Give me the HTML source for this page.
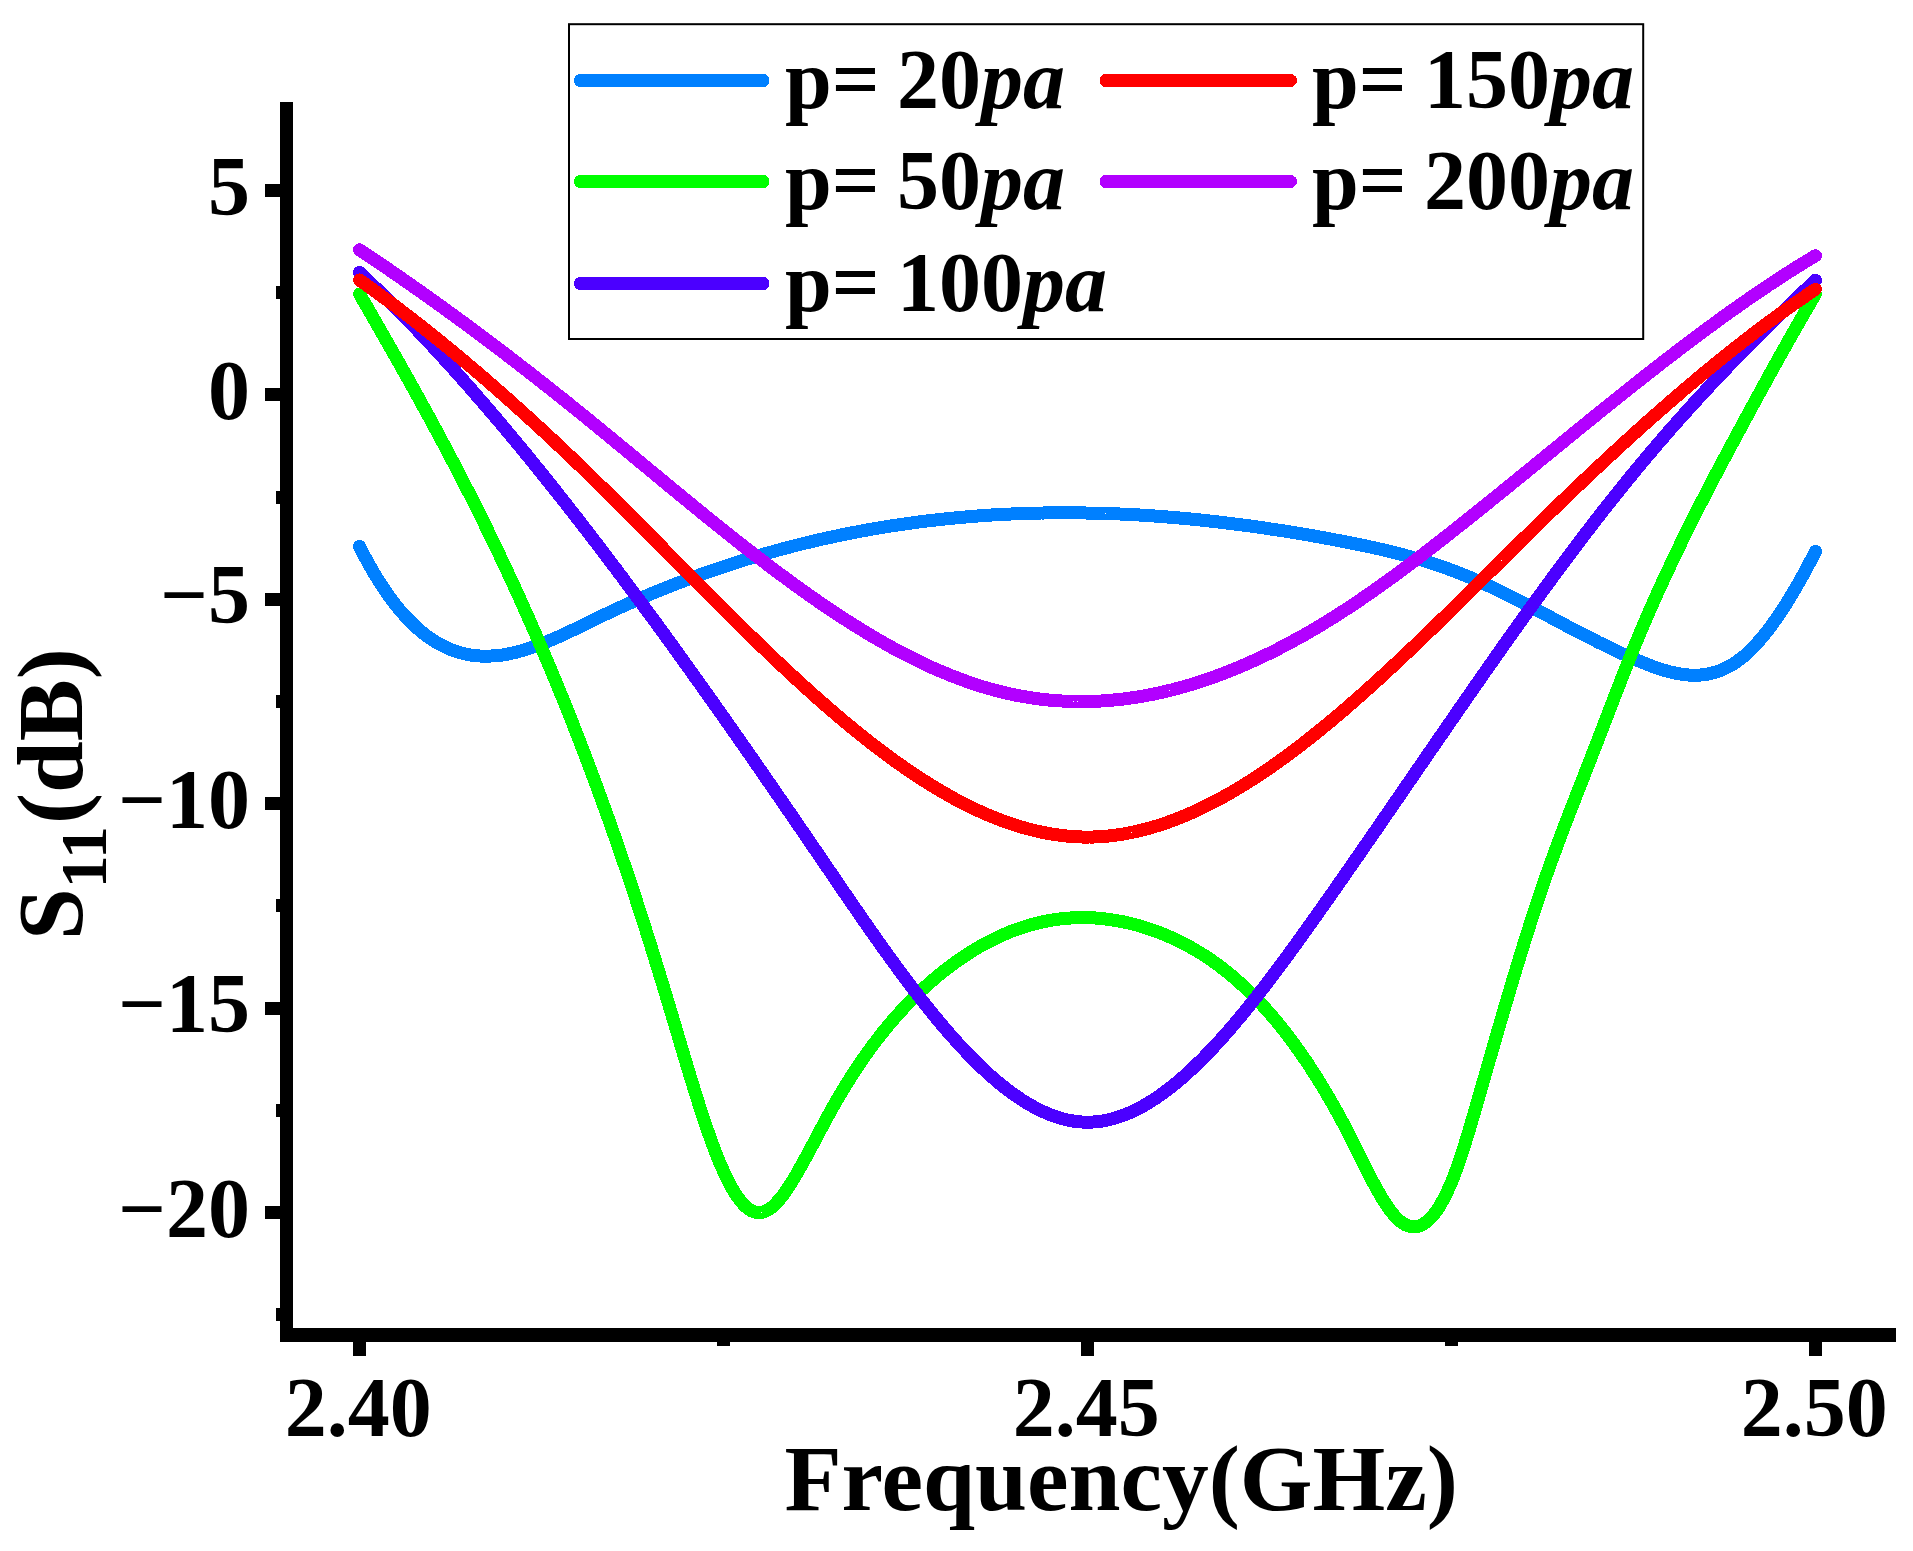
<!DOCTYPE html>
<html><head><meta charset="utf-8"><style>
html,body{margin:0;padding:0;background:#fff;}
svg{display:block;}
text{font-family:"Liberation Serif", serif;font-weight:bold;fill:#000;}
</style></head><body>
<svg width="1913" height="1551" viewBox="0 0 1913 1551">
<rect width="1913" height="1551" fill="#fff"/>
<g fill="none" stroke-width="13" stroke-linecap="round" stroke-linejoin="round" shape-rendering="crispEdges">
<path d="M359.5,546.4 L361.5,550.4 L363.5,554.2 L365.5,558.0 L367.5,561.7 L369.5,565.3 L371.5,568.8 L373.5,572.2 L375.5,575.6 L377.5,578.8 L379.5,582.0 L381.5,585.1 L383.5,588.2 L385.5,591.1 L387.5,594.0 L389.5,596.8 L391.5,599.5 L393.5,602.2 L395.5,604.7 L397.5,607.2 L399.5,609.7 L401.5,612.0 L403.5,614.3 L405.5,616.5 L407.5,618.7 L409.5,620.7 L411.5,622.7 L413.5,624.7 L415.5,626.6 L417.5,628.4 L419.5,630.1 L421.5,631.8 L423.5,633.4 L425.5,635.0 L427.5,636.4 L429.5,637.9 L431.5,639.2 L433.5,640.5 L435.5,641.8 L437.5,643.0 L439.5,644.1 L441.5,645.2 L443.5,646.2 L445.5,647.2 L447.5,648.1 L449.5,649.0 L451.5,649.8 L453.5,650.5 L455.5,651.2 L457.5,651.9 L459.5,652.5 L461.5,653.0 L463.5,653.6 L465.5,654.0 L467.5,654.4 L469.5,654.8 L471.5,655.1 L473.5,655.4 L475.5,655.6 L477.5,655.8 L479.5,656.0 L481.5,656.1 L483.5,656.1 L485.5,656.2 L487.5,656.2 L489.5,656.1 L491.5,656.0 L493.5,655.9 L495.5,655.7 L497.5,655.6 L499.5,655.3 L501.5,655.1 L503.5,654.8 L505.5,654.4 L507.5,654.1 L509.5,653.7 L511.5,653.3 L513.5,652.8 L515.5,652.4 L517.5,651.9 L519.5,651.3 L521.5,650.8 L523.5,650.2 L525.5,649.6 L527.5,649.0 L529.5,648.3 L531.5,647.6 L533.5,646.9 L535.5,646.2 L537.5,645.5 L539.5,644.7 L541.5,644.0 L543.5,643.2 L545.5,642.4 L547.5,641.5 L549.5,640.7 L551.5,639.9 L553.5,639.0 L555.5,638.1 L557.5,637.2 L559.5,636.3 L561.5,635.4 L563.5,634.5 L565.5,633.6 L567.5,632.6 L569.5,631.7 L571.5,630.7 L573.5,629.8 L575.5,628.8 L577.5,627.8 L579.5,626.9 L581.5,625.9 L583.5,624.9 L585.5,623.9 L587.5,623.0 L589.5,622.0 L591.5,621.0 L593.5,620.0 L595.5,619.1 L597.5,618.1 L599.5,617.1 L601.5,616.2 L603.5,615.2 L605.5,614.2 L607.5,613.3 L609.5,612.4 L611.5,611.4 L613.5,610.5 L615.5,609.6 L617.5,608.6 L619.5,607.7 L621.5,606.8 L623.5,605.9 L625.5,605.0 L627.5,604.1 L629.5,603.2 L631.5,602.3 L633.5,601.5 L635.5,600.6 L637.5,599.7 L639.5,598.8 L641.5,598.0 L643.5,597.1 L645.5,596.3 L647.5,595.4 L649.5,594.6 L651.5,593.7 L653.5,592.9 L655.5,592.1 L657.5,591.2 L659.5,590.4 L661.5,589.6 L663.5,588.8 L665.5,588.0 L667.5,587.2 L669.5,586.4 L671.5,585.6 L673.5,584.8 L675.5,584.0 L677.5,583.3 L679.5,582.5 L681.5,581.7 L683.5,581.0 L685.5,580.2 L687.5,579.5 L689.5,578.7 L691.5,578.0 L693.5,577.2 L695.5,576.5 L697.5,575.8 L699.5,575.0 L701.5,574.3 L703.5,573.6 L705.5,572.9 L707.5,572.2 L709.5,571.5 L711.5,570.8 L713.5,570.1 L715.5,569.4 L717.5,568.7 L719.5,568.0 L721.5,567.4 L723.5,566.7 L725.5,566.0 L727.5,565.4 L729.5,564.7 L731.5,564.1 L733.5,563.4 L735.5,562.8 L737.5,562.1 L739.5,561.5 L741.5,560.9 L743.5,560.2 L745.5,559.6 L747.5,559.0 L749.5,558.4 L751.5,557.8 L753.5,557.2 L755.5,556.6 L757.5,556.0 L759.5,555.4 L761.5,554.8 L763.5,554.2 L765.5,553.7 L767.5,553.1 L769.5,552.5 L771.5,552.0 L773.5,551.4 L775.5,550.8 L777.5,550.3 L779.5,549.7 L781.5,549.2 L783.5,548.7 L785.5,548.1 L787.5,547.6 L789.5,547.1 L791.5,546.6 L793.5,546.0 L795.5,545.5 L797.5,545.0 L799.5,544.5 L801.5,544.0 L803.5,543.5 L805.5,543.0 L807.5,542.6 L809.5,542.1 L811.5,541.6 L813.5,541.1 L815.5,540.7 L817.5,540.2 L819.5,539.7 L821.5,539.3 L823.5,538.8 L825.5,538.4 L827.5,537.9 L829.5,537.5 L831.5,537.1 L833.5,536.6 L835.5,536.2 L837.5,535.8 L839.5,535.4 L841.5,534.9 L843.5,534.5 L845.5,534.1 L847.5,533.7 L849.5,533.3 L851.5,532.9 L853.5,532.5 L855.5,532.2 L857.5,531.8 L859.5,531.4 L861.5,531.0 L863.5,530.7 L865.5,530.3 L867.5,529.9 L869.5,529.6 L871.5,529.2 L873.5,528.9 L875.5,528.5 L877.5,528.2 L879.5,527.8 L881.5,527.5 L883.5,527.2 L885.5,526.9 L887.5,526.5 L889.5,526.2 L891.5,525.9 L893.5,525.6 L895.5,525.3 L897.5,525.0 L899.5,524.7 L901.5,524.4 L903.5,524.1 L905.5,523.8 L907.5,523.5 L909.5,523.2 L911.5,523.0 L913.5,522.7 L915.5,522.4 L917.5,522.2 L919.5,521.9 L921.5,521.7 L923.5,521.4 L925.5,521.2 L927.5,520.9 L929.5,520.7 L931.5,520.4 L933.5,520.2 L935.5,520.0 L937.5,519.7 L939.5,519.5 L941.5,519.3 L943.5,519.1 L945.5,518.9 L947.5,518.7 L949.5,518.5 L951.5,518.3 L953.5,518.1 L955.5,517.9 L957.5,517.7 L959.5,517.5 L961.5,517.3 L963.5,517.2 L965.5,517.0 L967.5,516.8 L969.5,516.6 L971.5,516.5 L973.5,516.3 L975.5,516.2 L977.5,516.0 L979.5,515.9 L981.5,515.7 L983.5,515.6 L985.5,515.4 L987.5,515.3 L989.5,515.2 L991.5,515.0 L993.5,514.9 L995.5,514.8 L997.5,514.7 L999.5,514.6 L1001.5,514.5 L1003.5,514.4 L1005.5,514.3 L1007.5,514.2 L1009.5,514.1 L1011.5,514.0 L1013.5,513.9 L1015.5,513.8 L1017.5,513.7 L1019.5,513.6 L1021.5,513.6 L1023.5,513.5 L1025.5,513.4 L1027.5,513.4 L1029.5,513.3 L1031.5,513.3 L1033.5,513.2 L1035.5,513.1 L1037.5,513.1 L1039.5,513.1 L1041.5,513.0 L1043.5,513.0 L1045.5,512.9 L1047.5,512.9 L1049.5,512.9 L1051.5,512.9 L1053.5,512.8 L1055.5,512.8 L1057.5,512.8 L1059.5,512.8 L1061.5,512.8 L1063.5,512.8 L1065.5,512.8 L1067.5,512.8 L1069.5,512.8 L1071.5,512.8 L1073.5,512.8 L1075.5,512.8 L1077.5,512.9 L1079.5,512.9 L1081.5,512.9 L1083.5,512.9 L1085.5,513.0 L1087.5,513.0 L1089.5,513.1 L1091.5,513.1 L1093.5,513.1 L1095.5,513.2 L1097.5,513.2 L1099.5,513.3 L1101.5,513.4 L1103.5,513.4 L1105.5,513.5 L1107.5,513.5 L1109.5,513.6 L1111.5,513.7 L1113.5,513.8 L1115.5,513.8 L1117.5,513.9 L1119.5,514.0 L1121.5,514.1 L1123.5,514.2 L1125.5,514.3 L1127.5,514.4 L1129.5,514.5 L1131.5,514.6 L1133.5,514.7 L1135.5,514.8 L1137.5,514.9 L1139.5,515.0 L1141.5,515.2 L1143.5,515.3 L1145.5,515.4 L1147.5,515.5 L1149.5,515.7 L1151.5,515.8 L1153.5,515.9 L1155.5,516.1 L1157.5,516.2 L1159.5,516.4 L1161.5,516.5 L1163.5,516.7 L1165.5,516.8 L1167.5,517.0 L1169.5,517.2 L1171.5,517.3 L1173.5,517.5 L1175.5,517.7 L1177.5,517.8 L1179.5,518.0 L1181.5,518.2 L1183.5,518.4 L1185.5,518.5 L1187.5,518.7 L1189.5,518.9 L1191.5,519.1 L1193.5,519.3 L1195.5,519.5 L1197.5,519.7 L1199.5,519.9 L1201.5,520.1 L1203.5,520.3 L1205.5,520.5 L1207.5,520.8 L1209.5,521.0 L1211.5,521.2 L1213.5,521.4 L1215.5,521.6 L1217.5,521.9 L1219.5,522.1 L1221.5,522.3 L1223.5,522.6 L1225.5,522.8 L1227.5,523.1 L1229.5,523.3 L1231.5,523.6 L1233.5,523.8 L1235.5,524.1 L1237.5,524.3 L1239.5,524.6 L1241.5,524.8 L1243.5,525.1 L1245.5,525.4 L1247.5,525.6 L1249.5,525.9 L1251.5,526.2 L1253.5,526.5 L1255.5,526.7 L1257.5,527.0 L1259.5,527.3 L1261.5,527.6 L1263.5,527.9 L1265.5,528.2 L1267.5,528.5 L1269.5,528.8 L1271.5,529.1 L1273.5,529.4 L1275.5,529.7 L1277.5,530.0 L1279.5,530.3 L1281.5,530.6 L1283.5,530.9 L1285.5,531.2 L1287.5,531.6 L1289.5,531.9 L1291.5,532.2 L1293.5,532.5 L1295.5,532.9 L1297.5,533.2 L1299.5,533.5 L1301.5,533.9 L1303.5,534.2 L1305.5,534.5 L1307.5,534.9 L1309.5,535.2 L1311.5,535.6 L1313.5,535.9 L1315.5,536.3 L1317.5,536.6 L1319.5,537.0 L1321.5,537.4 L1323.5,537.7 L1325.5,538.1 L1327.5,538.5 L1329.5,538.8 L1331.5,539.2 L1333.5,539.6 L1335.5,540.0 L1337.5,540.3 L1339.5,540.7 L1341.5,541.1 L1343.5,541.5 L1345.5,541.9 L1347.5,542.3 L1349.5,542.7 L1351.5,543.1 L1353.5,543.5 L1355.5,543.9 L1357.5,544.3 L1359.5,544.7 L1361.5,545.1 L1363.5,545.5 L1365.5,545.9 L1367.5,546.4 L1369.5,546.8 L1371.5,547.2 L1373.5,547.7 L1375.5,548.1 L1377.5,548.6 L1379.5,549.0 L1381.5,549.5 L1383.5,549.9 L1385.5,550.4 L1387.5,550.9 L1389.5,551.4 L1391.5,551.9 L1393.5,552.4 L1395.5,552.9 L1397.5,553.4 L1399.5,553.9 L1401.5,554.4 L1403.5,554.9 L1405.5,555.5 L1407.5,556.0 L1409.5,556.6 L1411.5,557.1 L1413.5,557.7 L1415.5,558.3 L1417.5,558.8 L1419.5,559.4 L1421.5,560.0 L1423.5,560.6 L1425.5,561.3 L1427.5,561.9 L1429.5,562.5 L1431.5,563.2 L1433.5,563.8 L1435.5,564.5 L1437.5,565.1 L1439.5,565.8 L1441.5,566.5 L1443.5,567.2 L1445.5,567.9 L1447.5,568.6 L1449.5,569.4 L1451.5,570.1 L1453.5,570.9 L1455.5,571.6 L1457.5,572.4 L1459.5,573.2 L1461.5,574.0 L1463.5,574.8 L1465.5,575.6 L1467.5,576.4 L1469.5,577.3 L1471.5,578.1 L1473.5,579.0 L1475.5,579.9 L1477.5,580.8 L1479.5,581.6 L1481.5,582.5 L1483.5,583.4 L1485.5,584.4 L1487.5,585.3 L1489.5,586.2 L1491.5,587.2 L1493.5,588.1 L1495.5,589.1 L1497.5,590.0 L1499.5,591.0 L1501.5,592.0 L1503.5,593.0 L1505.5,593.9 L1507.5,594.9 L1509.5,595.9 L1511.5,596.9 L1513.5,597.9 L1515.5,599.0 L1517.5,600.0 L1519.5,601.0 L1521.5,602.0 L1523.5,603.1 L1525.5,604.1 L1527.5,605.1 L1529.5,606.2 L1531.5,607.2 L1533.5,608.3 L1535.5,609.3 L1537.5,610.4 L1539.5,611.4 L1541.5,612.5 L1543.5,613.5 L1545.5,614.6 L1547.5,615.7 L1549.5,616.7 L1551.5,617.8 L1553.5,618.8 L1555.5,619.9 L1557.5,621.0 L1559.5,622.0 L1561.5,623.1 L1563.5,624.1 L1565.5,625.2 L1567.5,626.3 L1569.5,627.3 L1571.5,628.4 L1573.5,629.4 L1575.5,630.5 L1577.5,631.5 L1579.5,632.5 L1581.5,633.6 L1583.5,634.6 L1585.5,635.7 L1587.5,636.7 L1589.5,637.7 L1591.5,638.7 L1593.5,639.7 L1595.5,640.7 L1597.5,641.8 L1599.5,642.8 L1601.5,643.7 L1603.5,644.7 L1605.5,645.7 L1607.5,646.7 L1609.5,647.7 L1611.5,648.6 L1613.5,649.6 L1615.5,650.5 L1617.5,651.5 L1619.5,652.4 L1621.5,653.3 L1623.5,654.2 L1625.5,655.1 L1627.5,656.0 L1629.5,656.9 L1631.5,657.8 L1633.5,658.7 L1635.5,659.5 L1637.5,660.4 L1639.5,661.2 L1641.5,662.0 L1643.5,662.9 L1645.5,663.7 L1647.5,664.5 L1649.5,665.2 L1651.5,666.0 L1653.5,666.7 L1655.5,667.4 L1657.5,668.1 L1659.5,668.8 L1661.5,669.5 L1663.5,670.1 L1665.5,670.7 L1667.5,671.2 L1669.5,671.8 L1671.5,672.3 L1673.5,672.7 L1675.5,673.2 L1677.5,673.6 L1679.5,673.9 L1681.5,674.2 L1683.5,674.5 L1685.5,674.7 L1687.5,674.9 L1689.5,675.1 L1691.5,675.2 L1693.5,675.2 L1695.5,675.2 L1697.5,675.2 L1699.5,675.1 L1701.5,674.9 L1703.5,674.7 L1705.5,674.4 L1707.5,674.1 L1709.5,673.7 L1711.5,673.2 L1713.5,672.7 L1715.5,672.2 L1717.5,671.5 L1719.5,670.8 L1721.5,670.0 L1723.5,669.2 L1725.5,668.2 L1727.5,667.2 L1729.5,666.2 L1731.5,665.0 L1733.5,663.8 L1735.5,662.5 L1737.5,661.1 L1739.5,659.6 L1741.5,658.1 L1743.5,656.5 L1745.5,654.8 L1747.5,653.0 L1749.5,651.1 L1751.5,649.1 L1753.5,647.1 L1755.5,645.0 L1757.5,642.8 L1759.5,640.5 L1761.5,638.2 L1763.5,635.8 L1765.5,633.3 L1767.5,630.8 L1769.5,628.2 L1771.5,625.5 L1773.5,622.7 L1775.5,619.9 L1777.5,617.0 L1779.5,614.1 L1781.5,611.1 L1783.5,608.0 L1785.5,604.9 L1787.5,601.7 L1789.5,598.4 L1791.5,595.1 L1793.5,591.8 L1795.5,588.4 L1797.5,584.9 L1799.5,581.4 L1801.5,577.8 L1803.5,574.2 L1805.5,570.5 L1807.5,566.8 L1809.5,563.0 L1811.5,559.2 L1813.5,555.3 L1815.5,551.4" stroke="#0080FF"/>
<path d="M359.5,294.0 L361.5,297.4 L363.5,300.9 L365.5,304.4 L367.5,307.8 L369.5,311.3 L371.5,314.8 L373.5,318.2 L375.5,321.7 L377.5,325.2 L379.5,328.7 L381.5,332.2 L383.5,335.7 L385.5,339.2 L387.5,342.7 L389.5,346.2 L391.5,349.7 L393.5,353.2 L395.5,356.7 L397.5,360.3 L399.5,363.8 L401.5,367.4 L403.5,370.9 L405.5,374.5 L407.5,378.0 L409.5,381.6 L411.5,385.2 L413.5,388.8 L415.5,392.4 L417.5,396.0 L419.5,399.6 L421.5,403.3 L423.5,406.9 L425.5,410.6 L427.5,414.2 L429.5,417.9 L431.5,421.6 L433.5,425.3 L435.5,429.0 L437.5,432.7 L439.5,436.4 L441.5,440.2 L443.5,443.9 L445.5,447.7 L447.5,451.5 L449.5,455.3 L451.5,459.1 L453.5,462.9 L455.5,466.7 L457.5,470.6 L459.5,474.4 L461.5,478.3 L463.5,482.2 L465.5,486.1 L467.5,490.0 L469.5,493.9 L471.5,497.9 L473.5,501.8 L475.5,505.8 L477.5,509.8 L479.5,513.8 L481.5,517.9 L483.5,521.9 L485.5,526.0 L487.5,530.0 L489.5,534.1 L491.5,538.3 L493.5,542.4 L495.5,546.5 L497.5,550.7 L499.5,554.9 L501.5,559.1 L503.5,563.3 L505.5,567.6 L507.5,571.9 L509.5,576.2 L511.5,580.5 L513.5,584.8 L515.5,589.1 L517.5,593.5 L519.5,597.9 L521.5,602.3 L523.5,606.8 L525.5,611.2 L527.5,615.7 L529.5,620.2 L531.5,624.7 L533.5,629.3 L535.5,633.8 L537.5,638.4 L539.5,643.1 L541.5,647.7 L543.5,652.4 L545.5,657.1 L547.5,661.8 L549.5,666.5 L551.5,671.3 L553.5,676.1 L555.5,680.9 L557.5,685.8 L559.5,690.6 L561.5,695.5 L563.5,700.4 L565.5,705.4 L567.5,710.4 L569.5,715.4 L571.5,720.4 L573.5,725.5 L575.5,730.6 L577.5,735.7 L579.5,740.8 L581.5,746.0 L583.5,751.2 L585.5,756.4 L587.5,761.7 L589.5,767.0 L591.5,772.3 L593.5,777.7 L595.5,783.1 L597.5,788.5 L599.5,794.0 L601.5,799.4 L603.5,805.0 L605.5,810.5 L607.5,816.1 L609.5,821.7 L611.5,827.4 L613.5,833.0 L615.5,838.8 L617.5,844.5 L619.5,850.3 L621.5,856.1 L623.5,862.0 L625.5,867.9 L627.5,873.8 L629.5,879.8 L631.5,885.8 L633.5,891.9 L635.5,897.9 L637.5,904.1 L639.5,910.2 L641.5,916.4 L643.5,922.7 L645.5,928.9 L647.5,935.3 L649.5,941.6 L651.5,948.0 L653.5,954.4 L655.5,960.9 L657.5,967.4 L659.5,973.9 L661.5,980.4 L663.5,987.0 L665.5,993.6 L667.5,1000.2 L669.5,1006.9 L671.5,1013.6 L673.5,1020.3 L675.5,1027.0 L677.5,1033.7 L679.5,1040.5 L681.5,1047.2 L683.5,1053.9 L685.5,1060.6 L687.5,1067.3 L689.5,1073.9 L691.5,1080.5 L693.5,1087.0 L695.5,1093.5 L697.5,1099.8 L699.5,1106.1 L701.5,1112.3 L703.5,1118.3 L705.5,1124.3 L707.5,1130.1 L709.5,1135.8 L711.5,1141.4 L713.5,1146.8 L715.5,1152.0 L717.5,1157.1 L719.5,1162.0 L721.5,1166.7 L723.5,1171.2 L725.5,1175.5 L727.5,1179.6 L729.5,1183.5 L731.5,1187.2 L733.5,1190.7 L735.5,1193.9 L737.5,1196.9 L739.5,1199.6 L741.5,1202.1 L743.5,1204.4 L745.5,1206.4 L747.5,1208.1 L749.5,1209.6 L751.5,1210.8 L753.5,1211.7 L755.5,1212.3 L757.5,1212.7 L759.5,1212.7 L761.5,1212.5 L763.5,1212.0 L765.5,1211.2 L767.5,1210.2 L769.5,1208.9 L771.5,1207.5 L773.5,1205.8 L775.5,1203.8 L777.5,1201.7 L779.5,1199.4 L781.5,1197.0 L783.5,1194.4 L785.5,1191.6 L787.5,1188.7 L789.5,1185.6 L791.5,1182.5 L793.5,1179.2 L795.5,1175.9 L797.5,1172.4 L799.5,1168.9 L801.5,1165.3 L803.5,1161.7 L805.5,1158.0 L807.5,1154.3 L809.5,1150.6 L811.5,1146.9 L813.5,1143.1 L815.5,1139.3 L817.5,1135.5 L819.5,1131.8 L821.5,1128.0 L823.5,1124.3 L825.5,1120.5 L827.5,1116.9 L829.5,1113.2 L831.5,1109.6 L833.5,1106.1 L835.5,1102.6 L837.5,1099.1 L839.5,1095.7 L841.5,1092.3 L843.5,1089.0 L845.5,1085.7 L847.5,1082.5 L849.5,1079.3 L851.5,1076.2 L853.5,1073.1 L855.5,1070.0 L857.5,1067.0 L859.5,1064.0 L861.5,1061.1 L863.5,1058.2 L865.5,1055.3 L867.5,1052.5 L869.5,1049.7 L871.5,1047.0 L873.5,1044.3 L875.5,1041.7 L877.5,1039.0 L879.5,1036.5 L881.5,1033.9 L883.5,1031.4 L885.5,1029.0 L887.5,1026.5 L889.5,1024.1 L891.5,1021.8 L893.5,1019.4 L895.5,1017.1 L897.5,1014.9 L899.5,1012.7 L901.5,1010.5 L903.5,1008.3 L905.5,1006.2 L907.5,1004.1 L909.5,1002.0 L911.5,1000.0 L913.5,998.0 L915.5,996.0 L917.5,994.1 L919.5,992.2 L921.5,990.3 L923.5,988.4 L925.5,986.6 L927.5,984.8 L929.5,983.0 L931.5,981.3 L933.5,979.5 L935.5,977.8 L937.5,976.2 L939.5,974.5 L941.5,972.9 L943.5,971.3 L945.5,969.7 L947.5,968.2 L949.5,966.7 L951.5,965.2 L953.5,963.7 L955.5,962.3 L957.5,960.8 L959.5,959.4 L961.5,958.1 L963.5,956.7 L965.5,955.4 L967.5,954.1 L969.5,952.8 L971.5,951.5 L973.5,950.3 L975.5,949.1 L977.5,947.9 L979.5,946.7 L981.5,945.6 L983.5,944.5 L985.5,943.4 L987.5,942.3 L989.5,941.3 L991.5,940.3 L993.5,939.3 L995.5,938.3 L997.5,937.3 L999.5,936.4 L1001.5,935.5 L1003.5,934.6 L1005.5,933.8 L1007.5,932.9 L1009.5,932.1 L1011.5,931.3 L1013.5,930.5 L1015.5,929.8 L1017.5,929.1 L1019.5,928.4 L1021.5,927.7 L1023.5,927.0 L1025.5,926.4 L1027.5,925.8 L1029.5,925.2 L1031.5,924.6 L1033.5,924.1 L1035.5,923.6 L1037.5,923.1 L1039.5,922.6 L1041.5,922.2 L1043.5,921.7 L1045.5,921.3 L1047.5,920.9 L1049.5,920.6 L1051.5,920.2 L1053.5,919.9 L1055.5,919.6 L1057.5,919.3 L1059.5,919.0 L1061.5,918.8 L1063.5,918.6 L1065.5,918.4 L1067.5,918.2 L1069.5,918.1 L1071.5,917.9 L1073.5,917.8 L1075.5,917.8 L1077.5,917.7 L1079.5,917.6 L1081.5,917.6 L1083.5,917.6 L1085.5,917.6 L1087.5,917.7 L1089.5,917.7 L1091.5,917.8 L1093.5,917.9 L1095.5,918.0 L1097.5,918.2 L1099.5,918.4 L1101.5,918.5 L1103.5,918.7 L1105.5,919.0 L1107.5,919.2 L1109.5,919.5 L1111.5,919.8 L1113.5,920.1 L1115.5,920.4 L1117.5,920.8 L1119.5,921.1 L1121.5,921.5 L1123.5,921.9 L1125.5,922.3 L1127.5,922.8 L1129.5,923.3 L1131.5,923.7 L1133.5,924.3 L1135.5,924.8 L1137.5,925.3 L1139.5,925.9 L1141.5,926.5 L1143.5,927.1 L1145.5,927.7 L1147.5,928.4 L1149.5,929.0 L1151.5,929.7 L1153.5,930.4 L1155.5,931.1 L1157.5,931.9 L1159.5,932.6 L1161.5,933.4 L1163.5,934.2 L1165.5,935.0 L1167.5,935.9 L1169.5,936.8 L1171.5,937.6 L1173.5,938.6 L1175.5,939.5 L1177.5,940.4 L1179.5,941.4 L1181.5,942.4 L1183.5,943.4 L1185.5,944.5 L1187.5,945.6 L1189.5,946.7 L1191.5,947.8 L1193.5,948.9 L1195.5,950.1 L1197.5,951.3 L1199.5,952.5 L1201.5,953.7 L1203.5,955.0 L1205.5,956.3 L1207.5,957.6 L1209.5,959.0 L1211.5,960.3 L1213.5,961.7 L1215.5,963.2 L1217.5,964.6 L1219.5,966.1 L1221.5,967.6 L1223.5,969.2 L1225.5,970.7 L1227.5,972.3 L1229.5,974.0 L1231.5,975.6 L1233.5,977.3 L1235.5,979.0 L1237.5,980.8 L1239.5,982.6 L1241.5,984.4 L1243.5,986.2 L1245.5,988.1 L1247.5,990.0 L1249.5,991.9 L1251.5,993.9 L1253.5,995.9 L1255.5,997.9 L1257.5,1000.0 L1259.5,1002.1 L1261.5,1004.2 L1263.5,1006.4 L1265.5,1008.6 L1267.5,1010.8 L1269.5,1013.1 L1271.5,1015.4 L1273.5,1017.8 L1275.5,1020.1 L1277.5,1022.5 L1279.5,1025.0 L1281.5,1027.5 L1283.5,1030.0 L1285.5,1032.6 L1287.5,1035.1 L1289.5,1037.8 L1291.5,1040.4 L1293.5,1043.2 L1295.5,1045.9 L1297.5,1048.7 L1299.5,1051.5 L1301.5,1054.4 L1303.5,1057.3 L1305.5,1060.2 L1307.5,1063.2 L1309.5,1066.2 L1311.5,1069.3 L1313.5,1072.4 L1315.5,1075.5 L1317.5,1078.7 L1319.5,1081.9 L1321.5,1085.2 L1323.5,1088.5 L1325.5,1091.8 L1327.5,1095.2 L1329.5,1098.7 L1331.5,1102.1 L1333.5,1105.6 L1335.5,1109.2 L1337.5,1112.8 L1339.5,1116.5 L1341.5,1120.2 L1343.5,1123.9 L1345.5,1127.7 L1347.5,1131.5 L1349.5,1135.4 L1351.5,1139.3 L1353.5,1143.3 L1355.5,1147.3 L1357.5,1151.3 L1359.5,1155.3 L1361.5,1159.4 L1363.5,1163.4 L1365.5,1167.4 L1367.5,1171.4 L1369.5,1175.3 L1371.5,1179.2 L1373.5,1183.0 L1375.5,1186.7 L1377.5,1190.3 L1379.5,1193.8 L1381.5,1197.2 L1383.5,1200.5 L1385.5,1203.6 L1387.5,1206.6 L1389.5,1209.4 L1391.5,1212.1 L1393.5,1214.5 L1395.5,1216.8 L1397.5,1218.9 L1399.5,1220.7 L1401.5,1222.3 L1403.5,1223.6 L1405.5,1224.8 L1407.5,1225.6 L1409.5,1226.3 L1411.5,1226.7 L1413.5,1226.9 L1415.5,1226.8 L1417.5,1226.4 L1419.5,1225.9 L1421.5,1225.0 L1423.5,1224.0 L1425.5,1222.6 L1427.5,1221.1 L1429.5,1219.2 L1431.5,1217.1 L1433.5,1214.8 L1435.5,1212.2 L1437.5,1209.4 L1439.5,1206.3 L1441.5,1202.9 L1443.5,1199.2 L1445.5,1195.4 L1447.5,1191.2 L1449.5,1186.8 L1451.5,1182.1 L1453.5,1177.1 L1455.5,1171.9 L1457.5,1166.4 L1459.5,1160.7 L1461.5,1154.7 L1463.5,1148.5 L1465.5,1142.1 L1467.5,1135.6 L1469.5,1129.0 L1471.5,1122.2 L1473.5,1115.4 L1475.5,1108.5 L1477.5,1101.5 L1479.5,1094.6 L1481.5,1087.6 L1483.5,1080.7 L1485.5,1073.7 L1487.5,1066.8 L1489.5,1059.8 L1491.5,1052.9 L1493.5,1046.0 L1495.5,1039.1 L1497.5,1032.2 L1499.5,1025.3 L1501.5,1018.4 L1503.5,1011.6 L1505.5,1004.8 L1507.5,998.0 L1509.5,991.3 L1511.5,984.5 L1513.5,977.8 L1515.5,971.2 L1517.5,964.6 L1519.5,958.0 L1521.5,951.5 L1523.5,945.1 L1525.5,938.6 L1527.5,932.3 L1529.5,926.0 L1531.5,919.7 L1533.5,913.5 L1535.5,907.4 L1537.5,901.4 L1539.5,895.4 L1541.5,889.5 L1543.5,883.6 L1545.5,877.8 L1547.5,872.1 L1549.5,866.5 L1551.5,860.9 L1553.5,855.4 L1555.5,850.0 L1557.5,844.6 L1559.5,839.2 L1561.5,833.9 L1563.5,828.6 L1565.5,823.4 L1567.5,818.1 L1569.5,813.0 L1571.5,807.8 L1573.5,802.7 L1575.5,797.5 L1577.5,792.4 L1579.5,787.3 L1581.5,782.2 L1583.5,777.1 L1585.5,772.0 L1587.5,766.9 L1589.5,761.7 L1591.5,756.6 L1593.5,751.4 L1595.5,746.3 L1597.5,741.1 L1599.5,735.9 L1601.5,730.7 L1603.5,725.5 L1605.5,720.3 L1607.5,715.1 L1609.5,709.9 L1611.5,704.7 L1613.5,699.5 L1615.5,694.4 L1617.5,689.2 L1619.5,684.1 L1621.5,679.0 L1623.5,673.9 L1625.5,668.8 L1627.5,663.8 L1629.5,658.8 L1631.5,653.8 L1633.5,648.9 L1635.5,644.0 L1637.5,639.1 L1639.5,634.3 L1641.5,629.6 L1643.5,624.8 L1645.5,620.2 L1647.5,615.6 L1649.5,611.0 L1651.5,606.4 L1653.5,601.9 L1655.5,597.4 L1657.5,593.0 L1659.5,588.6 L1661.5,584.2 L1663.5,579.9 L1665.5,575.6 L1667.5,571.3 L1669.5,567.1 L1671.5,562.8 L1673.5,558.6 L1675.5,554.4 L1677.5,550.3 L1679.5,546.1 L1681.5,542.0 L1683.5,537.9 L1685.5,533.9 L1687.5,529.8 L1689.5,525.8 L1691.5,521.8 L1693.5,517.8 L1695.5,513.8 L1697.5,509.9 L1699.5,506.0 L1701.5,502.0 L1703.5,498.1 L1705.5,494.2 L1707.5,490.4 L1709.5,486.5 L1711.5,482.7 L1713.5,478.8 L1715.5,475.0 L1717.5,471.2 L1719.5,467.4 L1721.5,463.7 L1723.5,459.9 L1725.5,456.1 L1727.5,452.4 L1729.5,448.6 L1731.5,444.9 L1733.5,441.1 L1735.5,437.4 L1737.5,433.7 L1739.5,430.0 L1741.5,426.3 L1743.5,422.6 L1745.5,418.9 L1747.5,415.2 L1749.5,411.5 L1751.5,407.8 L1753.5,404.1 L1755.5,400.5 L1757.5,396.8 L1759.5,393.1 L1761.5,389.5 L1763.5,385.8 L1765.5,382.2 L1767.5,378.6 L1769.5,374.9 L1771.5,371.3 L1773.5,367.7 L1775.5,364.1 L1777.5,360.5 L1779.5,356.9 L1781.5,353.3 L1783.5,349.8 L1785.5,346.2 L1787.5,342.6 L1789.5,339.1 L1791.5,335.6 L1793.5,332.0 L1795.5,328.5 L1797.5,325.0 L1799.5,321.5 L1801.5,318.1 L1803.5,314.6 L1805.5,311.1 L1807.5,307.7 L1809.5,304.3 L1811.5,300.9 L1813.5,297.5 L1815.5,294.1" stroke="#00FF00"/>
<path d="M359.5,272.4 L361.5,274.3 L363.5,276.2 L365.5,278.1 L367.5,280.0 L369.5,281.9 L371.5,283.9 L373.5,285.8 L375.5,287.7 L377.5,289.7 L379.5,291.7 L381.5,293.6 L383.5,295.6 L385.5,297.6 L387.5,299.6 L389.5,301.6 L391.5,303.6 L393.5,305.6 L395.5,307.6 L397.5,309.7 L399.5,311.7 L401.5,313.7 L403.5,315.8 L405.5,317.8 L407.5,319.9 L409.5,322.0 L411.5,324.1 L413.5,326.1 L415.5,328.2 L417.5,330.3 L419.5,332.4 L421.5,334.6 L423.5,336.7 L425.5,338.8 L427.5,340.9 L429.5,343.1 L431.5,345.2 L433.5,347.4 L435.5,349.5 L437.5,351.7 L439.5,353.9 L441.5,356.1 L443.5,358.3 L445.5,360.5 L447.5,362.7 L449.5,364.9 L451.5,367.1 L453.5,369.3 L455.5,371.5 L457.5,373.8 L459.5,376.0 L461.5,378.3 L463.5,380.5 L465.5,382.8 L467.5,385.0 L469.5,387.3 L471.5,389.6 L473.5,391.9 L475.5,394.2 L477.5,396.5 L479.5,398.8 L481.5,401.1 L483.5,403.4 L485.5,405.7 L487.5,408.0 L489.5,410.4 L491.5,412.7 L493.5,415.1 L495.5,417.4 L497.5,419.8 L499.5,422.1 L501.5,424.5 L503.5,426.9 L505.5,429.3 L507.5,431.7 L509.5,434.1 L511.5,436.5 L513.5,438.9 L515.5,441.3 L517.5,443.7 L519.5,446.1 L521.5,448.5 L523.5,451.0 L525.5,453.4 L527.5,455.8 L529.5,458.3 L531.5,460.7 L533.5,463.2 L535.5,465.7 L537.5,468.1 L539.5,470.6 L541.5,473.1 L543.5,475.6 L545.5,478.1 L547.5,480.6 L549.5,483.1 L551.5,485.6 L553.5,488.1 L555.5,490.6 L557.5,493.1 L559.5,495.7 L561.5,498.2 L563.5,500.7 L565.5,503.3 L567.5,505.8 L569.5,508.4 L571.5,510.9 L573.5,513.5 L575.5,516.1 L577.5,518.6 L579.5,521.2 L581.5,523.8 L583.5,526.4 L585.5,529.0 L587.5,531.5 L589.5,534.1 L591.5,536.8 L593.5,539.4 L595.5,542.0 L597.5,544.6 L599.5,547.2 L601.5,549.8 L603.5,552.5 L605.5,555.1 L607.5,557.7 L609.5,560.4 L611.5,563.0 L613.5,565.7 L615.5,568.3 L617.5,571.0 L619.5,573.7 L621.5,576.3 L623.5,579.0 L625.5,581.7 L627.5,584.4 L629.5,587.0 L631.5,589.7 L633.5,592.4 L635.5,595.1 L637.5,597.8 L639.5,600.5 L641.5,603.2 L643.5,605.9 L645.5,608.7 L647.5,611.4 L649.5,614.1 L651.5,616.8 L653.5,619.5 L655.5,622.3 L657.5,625.0 L659.5,627.8 L661.5,630.5 L663.5,633.3 L665.5,636.0 L667.5,638.8 L669.5,641.5 L671.5,644.3 L673.5,647.0 L675.5,649.8 L677.5,652.6 L679.5,655.4 L681.5,658.1 L683.5,660.9 L685.5,663.7 L687.5,666.5 L689.5,669.3 L691.5,672.1 L693.5,674.9 L695.5,677.7 L697.5,680.5 L699.5,683.3 L701.5,686.1 L703.5,688.9 L705.5,691.7 L707.5,694.5 L709.5,697.4 L711.5,700.2 L713.5,703.0 L715.5,705.8 L717.5,708.7 L719.5,711.5 L721.5,714.3 L723.5,717.2 L725.5,720.0 L727.5,722.9 L729.5,725.7 L731.5,728.6 L733.5,731.4 L735.5,734.3 L737.5,737.1 L739.5,740.0 L741.5,742.9 L743.5,745.7 L745.5,748.6 L747.5,751.5 L749.5,754.3 L751.5,757.2 L753.5,760.1 L755.5,763.0 L757.5,765.8 L759.5,768.7 L761.5,771.6 L763.5,774.5 L765.5,777.4 L767.5,780.3 L769.5,783.2 L771.5,786.1 L773.5,789.0 L775.5,791.9 L777.5,794.8 L779.5,797.7 L781.5,800.6 L783.5,803.5 L785.5,806.4 L787.5,809.3 L789.5,812.2 L791.5,815.1 L793.5,818.0 L795.5,820.9 L797.5,823.9 L799.5,826.8 L801.5,829.7 L803.5,832.6 L805.5,835.5 L807.5,838.5 L809.5,841.4 L811.5,844.3 L813.5,847.3 L815.5,850.2 L817.5,853.1 L819.5,856.1 L821.5,859.0 L823.5,861.9 L825.5,864.9 L827.5,867.8 L829.5,870.7 L831.5,873.7 L833.5,876.6 L835.5,879.5 L837.5,882.5 L839.5,885.4 L841.5,888.3 L843.5,891.3 L845.5,894.2 L847.5,897.1 L849.5,900.0 L851.5,902.9 L853.5,905.8 L855.5,908.7 L857.5,911.6 L859.5,914.5 L861.5,917.4 L863.5,920.3 L865.5,923.2 L867.5,926.1 L869.5,928.9 L871.5,931.8 L873.5,934.6 L875.5,937.5 L877.5,940.3 L879.5,943.1 L881.5,945.9 L883.5,948.7 L885.5,951.5 L887.5,954.3 L889.5,957.1 L891.5,959.8 L893.5,962.6 L895.5,965.3 L897.5,968.1 L899.5,970.8 L901.5,973.5 L903.5,976.2 L905.5,978.9 L907.5,981.5 L909.5,984.2 L911.5,986.8 L913.5,989.4 L915.5,992.0 L917.5,994.6 L919.5,997.2 L921.5,999.8 L923.5,1002.3 L925.5,1004.8 L927.5,1007.3 L929.5,1009.8 L931.5,1012.3 L933.5,1014.8 L935.5,1017.2 L937.5,1019.6 L939.5,1022.0 L941.5,1024.4 L943.5,1026.8 L945.5,1029.1 L947.5,1031.4 L949.5,1033.7 L951.5,1036.0 L953.5,1038.2 L955.5,1040.5 L957.5,1042.7 L959.5,1044.9 L961.5,1047.0 L963.5,1049.2 L965.5,1051.3 L967.5,1053.4 L969.5,1055.5 L971.5,1057.5 L973.5,1059.5 L975.5,1061.5 L977.5,1063.5 L979.5,1065.5 L981.5,1067.4 L983.5,1069.3 L985.5,1071.1 L987.5,1073.0 L989.5,1074.8 L991.5,1076.6 L993.5,1078.3 L995.5,1080.0 L997.5,1081.7 L999.5,1083.4 L1001.5,1085.0 L1003.5,1086.6 L1005.5,1088.2 L1007.5,1089.7 L1009.5,1091.3 L1011.5,1092.7 L1013.5,1094.2 L1015.5,1095.6 L1017.5,1097.0 L1019.5,1098.3 L1021.5,1099.7 L1023.5,1100.9 L1025.5,1102.2 L1027.5,1103.4 L1029.5,1104.6 L1031.5,1105.7 L1033.5,1106.8 L1035.5,1107.9 L1037.5,1109.0 L1039.5,1110.0 L1041.5,1110.9 L1043.5,1111.9 L1045.5,1112.7 L1047.5,1113.6 L1049.5,1114.4 L1051.5,1115.2 L1053.5,1115.9 L1055.5,1116.6 L1057.5,1117.3 L1059.5,1117.9 L1061.5,1118.5 L1063.5,1119.0 L1065.5,1119.5 L1067.5,1120.0 L1069.5,1120.4 L1071.5,1120.7 L1073.5,1121.1 L1075.5,1121.4 L1077.5,1121.6 L1079.5,1121.8 L1081.5,1122.0 L1083.5,1122.1 L1085.5,1122.1 L1087.5,1122.2 L1089.5,1122.1 L1091.5,1122.1 L1093.5,1122.0 L1095.5,1121.8 L1097.5,1121.6 L1099.5,1121.4 L1101.5,1121.1 L1103.5,1120.8 L1105.5,1120.4 L1107.5,1120.0 L1109.5,1119.5 L1111.5,1119.0 L1113.5,1118.5 L1115.5,1117.9 L1117.5,1117.3 L1119.5,1116.6 L1121.5,1115.9 L1123.5,1115.2 L1125.5,1114.4 L1127.5,1113.6 L1129.5,1112.8 L1131.5,1111.9 L1133.5,1110.9 L1135.5,1110.0 L1137.5,1109.0 L1139.5,1107.9 L1141.5,1106.9 L1143.5,1105.8 L1145.5,1104.6 L1147.5,1103.4 L1149.5,1102.2 L1151.5,1101.0 L1153.5,1099.7 L1155.5,1098.4 L1157.5,1097.0 L1159.5,1095.7 L1161.5,1094.2 L1163.5,1092.8 L1165.5,1091.3 L1167.5,1089.8 L1169.5,1088.3 L1171.5,1086.7 L1173.5,1085.1 L1175.5,1083.5 L1177.5,1081.8 L1179.5,1080.1 L1181.5,1078.4 L1183.5,1076.7 L1185.5,1074.9 L1187.5,1073.1 L1189.5,1071.3 L1191.5,1069.4 L1193.5,1067.5 L1195.5,1065.6 L1197.5,1063.7 L1199.5,1061.7 L1201.5,1059.8 L1203.5,1057.8 L1205.5,1055.7 L1207.5,1053.7 L1209.5,1051.6 L1211.5,1049.5 L1213.5,1047.4 L1215.5,1045.2 L1217.5,1043.0 L1219.5,1040.8 L1221.5,1038.6 L1223.5,1036.4 L1225.5,1034.1 L1227.5,1031.9 L1229.5,1029.6 L1231.5,1027.2 L1233.5,1024.9 L1235.5,1022.5 L1237.5,1020.2 L1239.5,1017.8 L1241.5,1015.4 L1243.5,1012.9 L1245.5,1010.5 L1247.5,1008.0 L1249.5,1005.5 L1251.5,1003.1 L1253.5,1000.5 L1255.5,998.0 L1257.5,995.5 L1259.5,992.9 L1261.5,990.3 L1263.5,987.8 L1265.5,985.2 L1267.5,982.6 L1269.5,979.9 L1271.5,977.3 L1273.5,974.6 L1275.5,972.0 L1277.5,969.3 L1279.5,966.6 L1281.5,963.9 L1283.5,961.2 L1285.5,958.5 L1287.5,955.8 L1289.5,953.0 L1291.5,950.3 L1293.5,947.6 L1295.5,944.8 L1297.5,942.0 L1299.5,939.3 L1301.5,936.5 L1303.5,933.7 L1305.5,930.9 L1307.5,928.1 L1309.5,925.3 L1311.5,922.5 L1313.5,919.6 L1315.5,916.8 L1317.5,914.0 L1319.5,911.2 L1321.5,908.3 L1323.5,905.5 L1325.5,902.6 L1327.5,899.8 L1329.5,897.0 L1331.5,894.1 L1333.5,891.3 L1335.5,888.4 L1337.5,885.5 L1339.5,882.7 L1341.5,879.8 L1343.5,876.9 L1345.5,874.1 L1347.5,871.2 L1349.5,868.3 L1351.5,865.4 L1353.5,862.6 L1355.5,859.7 L1357.5,856.8 L1359.5,853.9 L1361.5,851.0 L1363.5,848.1 L1365.5,845.2 L1367.5,842.3 L1369.5,839.5 L1371.5,836.6 L1373.5,833.7 L1375.5,830.8 L1377.5,827.9 L1379.5,825.0 L1381.5,822.1 L1383.5,819.1 L1385.5,816.2 L1387.5,813.3 L1389.5,810.4 L1391.5,807.5 L1393.5,804.6 L1395.5,801.7 L1397.5,798.8 L1399.5,795.9 L1401.5,793.0 L1403.5,790.1 L1405.5,787.1 L1407.5,784.2 L1409.5,781.3 L1411.5,778.4 L1413.5,775.5 L1415.5,772.6 L1417.5,769.7 L1419.5,766.8 L1421.5,763.8 L1423.5,760.9 L1425.5,758.0 L1427.5,755.1 L1429.5,752.2 L1431.5,749.3 L1433.5,746.4 L1435.5,743.5 L1437.5,740.6 L1439.5,737.7 L1441.5,734.8 L1443.5,731.9 L1445.5,729.0 L1447.5,726.1 L1449.5,723.2 L1451.5,720.3 L1453.5,717.4 L1455.5,714.5 L1457.5,711.6 L1459.5,708.7 L1461.5,705.8 L1463.5,702.9 L1465.5,700.0 L1467.5,697.2 L1469.5,694.3 L1471.5,691.4 L1473.5,688.5 L1475.5,685.7 L1477.5,682.8 L1479.5,679.9 L1481.5,677.0 L1483.5,674.2 L1485.5,671.3 L1487.5,668.5 L1489.5,665.6 L1491.5,662.8 L1493.5,659.9 L1495.5,657.1 L1497.5,654.2 L1499.5,651.4 L1501.5,648.6 L1503.5,645.7 L1505.5,642.9 L1507.5,640.1 L1509.5,637.3 L1511.5,634.4 L1513.5,631.6 L1515.5,628.8 L1517.5,626.0 L1519.5,623.2 L1521.5,620.4 L1523.5,617.6 L1525.5,614.8 L1527.5,612.1 L1529.5,609.3 L1531.5,606.5 L1533.5,603.7 L1535.5,601.0 L1537.5,598.2 L1539.5,595.5 L1541.5,592.7 L1543.5,590.0 L1545.5,587.2 L1547.5,584.5 L1549.5,581.8 L1551.5,579.0 L1553.5,576.3 L1555.5,573.6 L1557.5,570.9 L1559.5,568.2 L1561.5,565.5 L1563.5,562.8 L1565.5,560.1 L1567.5,557.4 L1569.5,554.8 L1571.5,552.1 L1573.5,549.4 L1575.5,546.8 L1577.5,544.1 L1579.5,541.5 L1581.5,538.9 L1583.5,536.2 L1585.5,533.6 L1587.5,531.0 L1589.5,528.4 L1591.5,525.8 L1593.5,523.2 L1595.5,520.6 L1597.5,518.0 L1599.5,515.5 L1601.5,512.9 L1603.5,510.3 L1605.5,507.8 L1607.5,505.3 L1609.5,502.7 L1611.5,500.2 L1613.5,497.7 L1615.5,495.2 L1617.5,492.7 L1619.5,490.2 L1621.5,487.7 L1623.5,485.2 L1625.5,482.7 L1627.5,480.3 L1629.5,477.8 L1631.5,475.4 L1633.5,472.9 L1635.5,470.5 L1637.5,468.1 L1639.5,465.7 L1641.5,463.2 L1643.5,460.9 L1645.5,458.5 L1647.5,456.1 L1649.5,453.7 L1651.5,451.4 L1653.5,449.0 L1655.5,446.7 L1657.5,444.3 L1659.5,442.0 L1661.5,439.7 L1663.5,437.4 L1665.5,435.1 L1667.5,432.8 L1669.5,430.5 L1671.5,428.2 L1673.5,425.9 L1675.5,423.7 L1677.5,421.4 L1679.5,419.2 L1681.5,416.9 L1683.5,414.7 L1685.5,412.5 L1687.5,410.3 L1689.5,408.0 L1691.5,405.8 L1693.5,403.6 L1695.5,401.4 L1697.5,399.3 L1699.5,397.1 L1701.5,394.9 L1703.5,392.8 L1705.5,390.6 L1707.5,388.4 L1709.5,386.3 L1711.5,384.2 L1713.5,382.0 L1715.5,379.9 L1717.5,377.8 L1719.5,375.7 L1721.5,373.6 L1723.5,371.5 L1725.5,369.4 L1727.5,367.3 L1729.5,365.2 L1731.5,363.1 L1733.5,361.1 L1735.5,359.0 L1737.5,356.9 L1739.5,354.9 L1741.5,352.8 L1743.5,350.8 L1745.5,348.7 L1747.5,346.7 L1749.5,344.7 L1751.5,342.7 L1753.5,340.6 L1755.5,338.6 L1757.5,336.6 L1759.5,334.6 L1761.5,332.6 L1763.5,330.6 L1765.5,328.6 L1767.5,326.7 L1769.5,324.7 L1771.5,322.7 L1773.5,320.7 L1775.5,318.8 L1777.5,316.8 L1779.5,314.8 L1781.5,312.9 L1783.5,310.9 L1785.5,309.0 L1787.5,307.0 L1789.5,305.1 L1791.5,303.2 L1793.5,301.2 L1795.5,299.3 L1797.5,297.4 L1799.5,295.4 L1801.5,293.5 L1803.5,291.6 L1805.5,289.7 L1807.5,287.8 L1809.5,285.9 L1811.5,284.0 L1813.5,282.1 L1815.5,280.2" stroke="#4B00FF"/>
<path d="M359.5,280.0 L361.5,281.4 L363.5,282.8 L365.5,284.2 L367.5,285.7 L369.5,287.1 L371.5,288.6 L373.5,290.0 L375.5,291.5 L377.5,292.9 L379.5,294.4 L381.5,295.9 L383.5,297.4 L385.5,298.8 L387.5,300.3 L389.5,301.8 L391.5,303.3 L393.5,304.8 L395.5,306.3 L397.5,307.8 L399.5,309.4 L401.5,310.9 L403.5,312.4 L405.5,314.0 L407.5,315.5 L409.5,317.0 L411.5,318.6 L413.5,320.1 L415.5,321.7 L417.5,323.3 L419.5,324.8 L421.5,326.4 L423.5,328.0 L425.5,329.6 L427.5,331.2 L429.5,332.8 L431.5,334.4 L433.5,336.0 L435.5,337.6 L437.5,339.2 L439.5,340.8 L441.5,342.4 L443.5,344.1 L445.5,345.7 L447.5,347.3 L449.5,349.0 L451.5,350.6 L453.5,352.3 L455.5,353.9 L457.5,355.6 L459.5,357.3 L461.5,358.9 L463.5,360.6 L465.5,362.3 L467.5,364.0 L469.5,365.7 L471.5,367.3 L473.5,369.0 L475.5,370.7 L477.5,372.5 L479.5,374.2 L481.5,375.9 L483.5,377.6 L485.5,379.3 L487.5,381.1 L489.5,382.8 L491.5,384.5 L493.5,386.3 L495.5,388.0 L497.5,389.8 L499.5,391.5 L501.5,393.3 L503.5,395.1 L505.5,396.8 L507.5,398.6 L509.5,400.4 L511.5,402.2 L513.5,404.0 L515.5,405.8 L517.5,407.6 L519.5,409.4 L521.5,411.2 L523.5,413.0 L525.5,414.8 L527.5,416.6 L529.5,418.4 L531.5,420.3 L533.5,422.1 L535.5,423.9 L537.5,425.8 L539.5,427.6 L541.5,429.4 L543.5,431.3 L545.5,433.2 L547.5,435.0 L549.5,436.9 L551.5,438.7 L553.5,440.6 L555.5,442.5 L557.5,444.4 L559.5,446.3 L561.5,448.1 L563.5,450.0 L565.5,451.9 L567.5,453.8 L569.5,455.7 L571.5,457.6 L573.5,459.6 L575.5,461.5 L577.5,463.4 L579.5,465.3 L581.5,467.2 L583.5,469.2 L585.5,471.1 L587.5,473.0 L589.5,475.0 L591.5,476.9 L593.5,478.9 L595.5,480.8 L597.5,482.8 L599.5,484.8 L601.5,486.7 L603.5,488.7 L605.5,490.7 L607.5,492.6 L609.5,494.6 L611.5,496.6 L613.5,498.6 L615.5,500.5 L617.5,502.5 L619.5,504.5 L621.5,506.5 L623.5,508.5 L625.5,510.5 L627.5,512.5 L629.5,514.5 L631.5,516.5 L633.5,518.5 L635.5,520.5 L637.5,522.5 L639.5,524.5 L641.5,526.6 L643.5,528.6 L645.5,530.6 L647.5,532.6 L649.5,534.6 L651.5,536.6 L653.5,538.6 L655.5,540.7 L657.5,542.7 L659.5,544.7 L661.5,546.7 L663.5,548.7 L665.5,550.8 L667.5,552.8 L669.5,554.8 L671.5,556.8 L673.5,558.9 L675.5,560.9 L677.5,562.9 L679.5,564.9 L681.5,566.9 L683.5,569.0 L685.5,571.0 L687.5,573.0 L689.5,575.0 L691.5,577.0 L693.5,579.1 L695.5,581.1 L697.5,583.1 L699.5,585.1 L701.5,587.1 L703.5,589.1 L705.5,591.1 L707.5,593.1 L709.5,595.1 L711.5,597.1 L713.5,599.2 L715.5,601.2 L717.5,603.1 L719.5,605.1 L721.5,607.1 L723.5,609.1 L725.5,611.1 L727.5,613.1 L729.5,615.1 L731.5,617.1 L733.5,619.0 L735.5,621.0 L737.5,623.0 L739.5,625.0 L741.5,626.9 L743.5,628.9 L745.5,630.9 L747.5,632.8 L749.5,634.8 L751.5,636.7 L753.5,638.7 L755.5,640.6 L757.5,642.5 L759.5,644.5 L761.5,646.4 L763.5,648.3 L765.5,650.2 L767.5,652.2 L769.5,654.1 L771.5,656.0 L773.5,657.9 L775.5,659.8 L777.5,661.7 L779.5,663.6 L781.5,665.4 L783.5,667.3 L785.5,669.2 L787.5,671.1 L789.5,672.9 L791.5,674.8 L793.5,676.6 L795.5,678.5 L797.5,680.3 L799.5,682.1 L801.5,684.0 L803.5,685.8 L805.5,687.6 L807.5,689.4 L809.5,691.2 L811.5,693.0 L813.5,694.8 L815.5,696.6 L817.5,698.4 L819.5,700.1 L821.5,701.9 L823.5,703.6 L825.5,705.4 L827.5,707.1 L829.5,708.9 L831.5,710.6 L833.5,712.3 L835.5,714.0 L837.5,715.7 L839.5,717.4 L841.5,719.1 L843.5,720.8 L845.5,722.5 L847.5,724.1 L849.5,725.8 L851.5,727.4 L853.5,729.1 L855.5,730.7 L857.5,732.3 L859.5,733.9 L861.5,735.5 L863.5,737.1 L865.5,738.7 L867.5,740.3 L869.5,741.9 L871.5,743.4 L873.5,745.0 L875.5,746.5 L877.5,748.0 L879.5,749.5 L881.5,751.1 L883.5,752.6 L885.5,754.1 L887.5,755.5 L889.5,757.0 L891.5,758.5 L893.5,759.9 L895.5,761.4 L897.5,762.8 L899.5,764.2 L901.5,765.6 L903.5,767.0 L905.5,768.4 L907.5,769.8 L909.5,771.1 L911.5,772.5 L913.5,773.8 L915.5,775.2 L917.5,776.5 L919.5,777.8 L921.5,779.1 L923.5,780.4 L925.5,781.6 L927.5,782.9 L929.5,784.2 L931.5,785.4 L933.5,786.6 L935.5,787.8 L937.5,789.0 L939.5,790.2 L941.5,791.4 L943.5,792.6 L945.5,793.7 L947.5,794.8 L949.5,796.0 L951.5,797.1 L953.5,798.2 L955.5,799.3 L957.5,800.3 L959.5,801.4 L961.5,802.4 L963.5,803.5 L965.5,804.5 L967.5,805.5 L969.5,806.5 L971.5,807.5 L973.5,808.4 L975.5,809.4 L977.5,810.3 L979.5,811.2 L981.5,812.1 L983.5,813.0 L985.5,813.9 L987.5,814.8 L989.5,815.6 L991.5,816.4 L993.5,817.3 L995.5,818.1 L997.5,818.8 L999.5,819.6 L1001.5,820.4 L1003.5,821.1 L1005.5,821.8 L1007.5,822.5 L1009.5,823.2 L1011.5,823.9 L1013.5,824.6 L1015.5,825.2 L1017.5,825.9 L1019.5,826.5 L1021.5,827.1 L1023.5,827.6 L1025.5,828.2 L1027.5,828.8 L1029.5,829.3 L1031.5,829.8 L1033.5,830.3 L1035.5,830.8 L1037.5,831.2 L1039.5,831.7 L1041.5,832.1 L1043.5,832.5 L1045.5,832.9 L1047.5,833.3 L1049.5,833.7 L1051.5,834.0 L1053.5,834.3 L1055.5,834.6 L1057.5,834.9 L1059.5,835.2 L1061.5,835.5 L1063.5,835.7 L1065.5,835.9 L1067.5,836.1 L1069.5,836.3 L1071.5,836.4 L1073.5,836.6 L1075.5,836.7 L1077.5,836.8 L1079.5,836.9 L1081.5,837.0 L1083.5,837.0 L1085.5,837.0 L1087.5,837.1 L1089.5,837.0 L1091.5,837.0 L1093.5,837.0 L1095.5,836.9 L1097.5,836.8 L1099.5,836.7 L1101.5,836.6 L1103.5,836.4 L1105.5,836.3 L1107.5,836.1 L1109.5,835.9 L1111.5,835.7 L1113.5,835.4 L1115.5,835.2 L1117.5,834.9 L1119.5,834.6 L1121.5,834.3 L1123.5,834.0 L1125.5,833.6 L1127.5,833.2 L1129.5,832.9 L1131.5,832.5 L1133.5,832.0 L1135.5,831.6 L1137.5,831.2 L1139.5,830.7 L1141.5,830.2 L1143.5,829.7 L1145.5,829.2 L1147.5,828.6 L1149.5,828.1 L1151.5,827.5 L1153.5,826.9 L1155.5,826.3 L1157.5,825.7 L1159.5,825.1 L1161.5,824.4 L1163.5,823.8 L1165.5,823.1 L1167.5,822.4 L1169.5,821.7 L1171.5,820.9 L1173.5,820.2 L1175.5,819.4 L1177.5,818.7 L1179.5,817.9 L1181.5,817.1 L1183.5,816.2 L1185.5,815.4 L1187.5,814.6 L1189.5,813.7 L1191.5,812.8 L1193.5,811.9 L1195.5,811.0 L1197.5,810.1 L1199.5,809.1 L1201.5,808.2 L1203.5,807.2 L1205.5,806.2 L1207.5,805.2 L1209.5,804.2 L1211.5,803.2 L1213.5,802.2 L1215.5,801.1 L1217.5,800.1 L1219.5,799.0 L1221.5,797.9 L1223.5,796.8 L1225.5,795.7 L1227.5,794.6 L1229.5,793.4 L1231.5,792.3 L1233.5,791.1 L1235.5,789.9 L1237.5,788.7 L1239.5,787.5 L1241.5,786.3 L1243.5,785.1 L1245.5,783.9 L1247.5,782.6 L1249.5,781.3 L1251.5,780.1 L1253.5,778.8 L1255.5,777.5 L1257.5,776.2 L1259.5,774.8 L1261.5,773.5 L1263.5,772.2 L1265.5,770.8 L1267.5,769.5 L1269.5,768.1 L1271.5,766.7 L1273.5,765.3 L1275.5,763.9 L1277.5,762.5 L1279.5,761.0 L1281.5,759.6 L1283.5,758.1 L1285.5,756.7 L1287.5,755.2 L1289.5,753.7 L1291.5,752.2 L1293.5,750.7 L1295.5,749.2 L1297.5,747.7 L1299.5,746.2 L1301.5,744.7 L1303.5,743.1 L1305.5,741.6 L1307.5,740.0 L1309.5,738.4 L1311.5,736.8 L1313.5,735.2 L1315.5,733.6 L1317.5,732.0 L1319.5,730.4 L1321.5,728.8 L1323.5,727.2 L1325.5,725.5 L1327.5,723.9 L1329.5,722.2 L1331.5,720.6 L1333.5,718.9 L1335.5,717.2 L1337.5,715.5 L1339.5,713.8 L1341.5,712.1 L1343.5,710.4 L1345.5,708.7 L1347.5,707.0 L1349.5,705.2 L1351.5,703.5 L1353.5,701.7 L1355.5,700.0 L1357.5,698.2 L1359.5,696.5 L1361.5,694.7 L1363.5,692.9 L1365.5,691.1 L1367.5,689.3 L1369.5,687.5 L1371.5,685.7 L1373.5,683.9 L1375.5,682.1 L1377.5,680.3 L1379.5,678.5 L1381.5,676.6 L1383.5,674.8 L1385.5,673.0 L1387.5,671.1 L1389.5,669.3 L1391.5,667.4 L1393.5,665.5 L1395.5,663.7 L1397.5,661.8 L1399.5,659.9 L1401.5,658.1 L1403.5,656.2 L1405.5,654.3 L1407.5,652.4 L1409.5,650.5 L1411.5,648.6 L1413.5,646.7 L1415.5,644.8 L1417.5,642.9 L1419.5,641.0 L1421.5,639.0 L1423.5,637.1 L1425.5,635.2 L1427.5,633.3 L1429.5,631.3 L1431.5,629.4 L1433.5,627.4 L1435.5,625.5 L1437.5,623.6 L1439.5,621.6 L1441.5,619.7 L1443.5,617.7 L1445.5,615.8 L1447.5,613.8 L1449.5,611.8 L1451.5,609.9 L1453.5,607.9 L1455.5,605.9 L1457.5,604.0 L1459.5,602.0 L1461.5,600.0 L1463.5,598.1 L1465.5,596.1 L1467.5,594.1 L1469.5,592.1 L1471.5,590.2 L1473.5,588.2 L1475.5,586.2 L1477.5,584.2 L1479.5,582.3 L1481.5,580.3 L1483.5,578.3 L1485.5,576.3 L1487.5,574.3 L1489.5,572.3 L1491.5,570.4 L1493.5,568.4 L1495.5,566.4 L1497.5,564.4 L1499.5,562.4 L1501.5,560.5 L1503.5,558.5 L1505.5,556.5 L1507.5,554.5 L1509.5,552.5 L1511.5,550.6 L1513.5,548.6 L1515.5,546.6 L1517.5,544.6 L1519.5,542.7 L1521.5,540.7 L1523.5,538.7 L1525.5,536.7 L1527.5,534.8 L1529.5,532.8 L1531.5,530.8 L1533.5,528.9 L1535.5,526.9 L1537.5,525.0 L1539.5,523.0 L1541.5,521.0 L1543.5,519.1 L1545.5,517.1 L1547.5,515.2 L1549.5,513.2 L1551.5,511.3 L1553.5,509.4 L1555.5,507.4 L1557.5,505.5 L1559.5,503.6 L1561.5,501.6 L1563.5,499.7 L1565.5,497.8 L1567.5,495.9 L1569.5,493.9 L1571.5,492.0 L1573.5,490.1 L1575.5,488.2 L1577.5,486.3 L1579.5,484.4 L1581.5,482.5 L1583.5,480.6 L1585.5,478.7 L1587.5,476.8 L1589.5,474.9 L1591.5,473.0 L1593.5,471.2 L1595.5,469.3 L1597.5,467.4 L1599.5,465.5 L1601.5,463.7 L1603.5,461.8 L1605.5,459.9 L1607.5,458.1 L1609.5,456.2 L1611.5,454.4 L1613.5,452.5 L1615.5,450.7 L1617.5,448.8 L1619.5,447.0 L1621.5,445.2 L1623.5,443.3 L1625.5,441.5 L1627.5,439.7 L1629.5,437.9 L1631.5,436.0 L1633.5,434.2 L1635.5,432.4 L1637.5,430.6 L1639.5,428.8 L1641.5,427.0 L1643.5,425.2 L1645.5,423.4 L1647.5,421.6 L1649.5,419.9 L1651.5,418.1 L1653.5,416.3 L1655.5,414.5 L1657.5,412.8 L1659.5,411.0 L1661.5,409.3 L1663.5,407.5 L1665.5,405.8 L1667.5,404.0 L1669.5,402.3 L1671.5,400.6 L1673.5,398.8 L1675.5,397.1 L1677.5,395.4 L1679.5,393.7 L1681.5,392.0 L1683.5,390.2 L1685.5,388.5 L1687.5,386.8 L1689.5,385.2 L1691.5,383.5 L1693.5,381.8 L1695.5,380.1 L1697.5,378.4 L1699.5,376.8 L1701.5,375.1 L1703.5,373.4 L1705.5,371.8 L1707.5,370.1 L1709.5,368.5 L1711.5,366.8 L1713.5,365.2 L1715.5,363.6 L1717.5,362.0 L1719.5,360.3 L1721.5,358.7 L1723.5,357.1 L1725.5,355.5 L1727.5,353.9 L1729.5,352.3 L1731.5,350.7 L1733.5,349.1 L1735.5,347.6 L1737.5,346.0 L1739.5,344.4 L1741.5,342.9 L1743.5,341.3 L1745.5,339.8 L1747.5,338.2 L1749.5,336.7 L1751.5,335.2 L1753.5,333.6 L1755.5,332.1 L1757.5,330.6 L1759.5,329.1 L1761.5,327.6 L1763.5,326.1 L1765.5,324.6 L1767.5,323.1 L1769.5,321.6 L1771.5,320.1 L1773.5,318.7 L1775.5,317.2 L1777.5,315.8 L1779.5,314.3 L1781.5,312.9 L1783.5,311.4 L1785.5,310.0 L1787.5,308.6 L1789.5,307.1 L1791.5,305.7 L1793.5,304.3 L1795.5,302.9 L1797.5,301.5 L1799.5,300.1 L1801.5,298.8 L1803.5,297.4 L1805.5,296.0 L1807.5,294.6 L1809.5,293.3 L1811.5,291.9 L1813.5,290.6 L1815.5,289.3" stroke="#FF0000"/>
<path d="M359.5,249.8 L361.5,251.1 L363.5,252.4 L365.5,253.8 L367.5,255.1 L369.5,256.4 L371.5,257.8 L373.5,259.1 L375.5,260.5 L377.5,261.8 L379.5,263.2 L381.5,264.5 L383.5,265.9 L385.5,267.3 L387.5,268.6 L389.5,270.0 L391.5,271.4 L393.5,272.8 L395.5,274.1 L397.5,275.5 L399.5,276.9 L401.5,278.3 L403.5,279.7 L405.5,281.1 L407.5,282.5 L409.5,283.9 L411.5,285.3 L413.5,286.7 L415.5,288.1 L417.5,289.5 L419.5,290.9 L421.5,292.3 L423.5,293.7 L425.5,295.1 L427.5,296.6 L429.5,298.0 L431.5,299.4 L433.5,300.8 L435.5,302.3 L437.5,303.7 L439.5,305.1 L441.5,306.6 L443.5,308.0 L445.5,309.5 L447.5,310.9 L449.5,312.4 L451.5,313.8 L453.5,315.3 L455.5,316.8 L457.5,318.2 L459.5,319.7 L461.5,321.2 L463.5,322.6 L465.5,324.1 L467.5,325.6 L469.5,327.1 L471.5,328.5 L473.5,330.0 L475.5,331.5 L477.5,333.0 L479.5,334.5 L481.5,336.0 L483.5,337.5 L485.5,339.0 L487.5,340.5 L489.5,342.0 L491.5,343.5 L493.5,345.0 L495.5,346.5 L497.5,348.0 L499.5,349.5 L501.5,351.1 L503.5,352.6 L505.5,354.1 L507.5,355.6 L509.5,357.2 L511.5,358.7 L513.5,360.2 L515.5,361.8 L517.5,363.3 L519.5,364.9 L521.5,366.4 L523.5,368.0 L525.5,369.5 L527.5,371.1 L529.5,372.6 L531.5,374.2 L533.5,375.7 L535.5,377.3 L537.5,378.9 L539.5,380.4 L541.5,382.0 L543.5,383.6 L545.5,385.2 L547.5,386.7 L549.5,388.3 L551.5,389.9 L553.5,391.5 L555.5,393.1 L557.5,394.7 L559.5,396.2 L561.5,397.8 L563.5,399.4 L565.5,401.0 L567.5,402.6 L569.5,404.2 L571.5,405.9 L573.5,407.5 L575.5,409.1 L577.5,410.7 L579.5,412.3 L581.5,413.9 L583.5,415.5 L585.5,417.2 L587.5,418.8 L589.5,420.4 L591.5,422.0 L593.5,423.7 L595.5,425.3 L597.5,426.9 L599.5,428.6 L601.5,430.2 L603.5,431.9 L605.5,433.5 L607.5,435.1 L609.5,436.8 L611.5,438.4 L613.5,440.1 L615.5,441.7 L617.5,443.4 L619.5,445.0 L621.5,446.7 L623.5,448.3 L625.5,450.0 L627.5,451.6 L629.5,453.3 L631.5,454.9 L633.5,456.6 L635.5,458.2 L637.5,459.9 L639.5,461.6 L641.5,463.2 L643.5,464.9 L645.5,466.5 L647.5,468.2 L649.5,469.8 L651.5,471.5 L653.5,473.1 L655.5,474.8 L657.5,476.4 L659.5,478.1 L661.5,479.8 L663.5,481.4 L665.5,483.1 L667.5,484.7 L669.5,486.4 L671.5,488.0 L673.5,489.7 L675.5,491.3 L677.5,492.9 L679.5,494.6 L681.5,496.2 L683.5,497.9 L685.5,499.5 L687.5,501.2 L689.5,502.8 L691.5,504.4 L693.5,506.1 L695.5,507.7 L697.5,509.3 L699.5,511.0 L701.5,512.6 L703.5,514.2 L705.5,515.8 L707.5,517.5 L709.5,519.1 L711.5,520.7 L713.5,522.3 L715.5,523.9 L717.5,525.5 L719.5,527.1 L721.5,528.7 L723.5,530.3 L725.5,531.9 L727.5,533.5 L729.5,535.1 L731.5,536.7 L733.5,538.3 L735.5,539.9 L737.5,541.4 L739.5,543.0 L741.5,544.6 L743.5,546.2 L745.5,547.7 L747.5,549.3 L749.5,550.8 L751.5,552.4 L753.5,553.9 L755.5,555.5 L757.5,557.0 L759.5,558.6 L761.5,560.1 L763.5,561.6 L765.5,563.1 L767.5,564.7 L769.5,566.2 L771.5,567.7 L773.5,569.2 L775.5,570.7 L777.5,572.2 L779.5,573.7 L781.5,575.2 L783.5,576.6 L785.5,578.1 L787.5,579.6 L789.5,581.1 L791.5,582.5 L793.5,584.0 L795.5,585.4 L797.5,586.9 L799.5,588.3 L801.5,589.7 L803.5,591.2 L805.5,592.6 L807.5,594.0 L809.5,595.4 L811.5,596.8 L813.5,598.2 L815.5,599.6 L817.5,601.0 L819.5,602.4 L821.5,603.7 L823.5,605.1 L825.5,606.5 L827.5,607.8 L829.5,609.2 L831.5,610.5 L833.5,611.8 L835.5,613.2 L837.5,614.5 L839.5,615.8 L841.5,617.1 L843.5,618.4 L845.5,619.7 L847.5,621.0 L849.5,622.2 L851.5,623.5 L853.5,624.8 L855.5,626.0 L857.5,627.3 L859.5,628.5 L861.5,629.7 L863.5,631.0 L865.5,632.2 L867.5,633.4 L869.5,634.6 L871.5,635.8 L873.5,636.9 L875.5,638.1 L877.5,639.3 L879.5,640.4 L881.5,641.6 L883.5,642.7 L885.5,643.9 L887.5,645.0 L889.5,646.1 L891.5,647.2 L893.5,648.3 L895.5,649.4 L897.5,650.4 L899.5,651.5 L901.5,652.6 L903.5,653.6 L905.5,654.7 L907.5,655.7 L909.5,656.7 L911.5,657.7 L913.5,658.7 L915.5,659.7 L917.5,660.7 L919.5,661.6 L921.5,662.6 L923.5,663.6 L925.5,664.5 L927.5,665.4 L929.5,666.3 L931.5,667.3 L933.5,668.2 L935.5,669.0 L937.5,669.9 L939.5,670.8 L941.5,671.6 L943.5,672.5 L945.5,673.3 L947.5,674.1 L949.5,675.0 L951.5,675.8 L953.5,676.5 L955.5,677.3 L957.5,678.1 L959.5,678.8 L961.5,679.6 L963.5,680.3 L965.5,681.0 L967.5,681.7 L969.5,682.4 L971.5,683.1 L973.5,683.8 L975.5,684.5 L977.5,685.1 L979.5,685.8 L981.5,686.4 L983.5,687.0 L985.5,687.6 L987.5,688.2 L989.5,688.8 L991.5,689.3 L993.5,689.9 L995.5,690.4 L997.5,690.9 L999.5,691.4 L1001.5,691.9 L1003.5,692.4 L1005.5,692.9 L1007.5,693.4 L1009.5,693.8 L1011.5,694.2 L1013.5,694.7 L1015.5,695.1 L1017.5,695.5 L1019.5,695.8 L1021.5,696.2 L1023.5,696.6 L1025.5,696.9 L1027.5,697.2 L1029.5,697.6 L1031.5,697.9 L1033.5,698.2 L1035.5,698.5 L1037.5,698.7 L1039.5,699.0 L1041.5,699.2 L1043.5,699.5 L1045.5,699.7 L1047.5,699.9 L1049.5,700.1 L1051.5,700.3 L1053.5,700.4 L1055.5,700.6 L1057.5,700.7 L1059.5,700.9 L1061.5,701.0 L1063.5,701.1 L1065.5,701.2 L1067.5,701.3 L1069.5,701.4 L1071.5,701.4 L1073.5,701.5 L1075.5,701.5 L1077.5,701.6 L1079.5,701.6 L1081.5,701.6 L1083.5,701.6 L1085.5,701.5 L1087.5,701.5 L1089.5,701.5 L1091.5,701.4 L1093.5,701.3 L1095.5,701.3 L1097.5,701.2 L1099.5,701.1 L1101.5,701.0 L1103.5,700.8 L1105.5,700.7 L1107.5,700.5 L1109.5,700.4 L1111.5,700.2 L1113.5,700.0 L1115.5,699.8 L1117.5,699.6 L1119.5,699.4 L1121.5,699.2 L1123.5,699.0 L1125.5,698.7 L1127.5,698.4 L1129.5,698.2 L1131.5,697.9 L1133.5,697.6 L1135.5,697.3 L1137.5,697.0 L1139.5,696.7 L1141.5,696.3 L1143.5,696.0 L1145.5,695.6 L1147.5,695.2 L1149.5,694.9 L1151.5,694.5 L1153.5,694.1 L1155.5,693.6 L1157.5,693.2 L1159.5,692.8 L1161.5,692.3 L1163.5,691.9 L1165.5,691.4 L1167.5,690.9 L1169.5,690.5 L1171.5,690.0 L1173.5,689.4 L1175.5,688.9 L1177.5,688.4 L1179.5,687.9 L1181.5,687.3 L1183.5,686.7 L1185.5,686.2 L1187.5,685.6 L1189.5,685.0 L1191.5,684.4 L1193.5,683.8 L1195.5,683.2 L1197.5,682.5 L1199.5,681.9 L1201.5,681.2 L1203.5,680.6 L1205.5,679.9 L1207.5,679.2 L1209.5,678.5 L1211.5,677.8 L1213.5,677.1 L1215.5,676.4 L1217.5,675.7 L1219.5,674.9 L1221.5,674.2 L1223.5,673.4 L1225.5,672.6 L1227.5,671.9 L1229.5,671.1 L1231.5,670.3 L1233.5,669.5 L1235.5,668.6 L1237.5,667.8 L1239.5,667.0 L1241.5,666.1 L1243.5,665.3 L1245.5,664.4 L1247.5,663.5 L1249.5,662.6 L1251.5,661.7 L1253.5,660.8 L1255.5,659.9 L1257.5,659.0 L1259.5,658.1 L1261.5,657.1 L1263.5,656.2 L1265.5,655.2 L1267.5,654.2 L1269.5,653.3 L1271.5,652.3 L1273.5,651.3 L1275.5,650.3 L1277.5,649.3 L1279.5,648.2 L1281.5,647.2 L1283.5,646.2 L1285.5,645.1 L1287.5,644.1 L1289.5,643.0 L1291.5,641.9 L1293.5,640.8 L1295.5,639.7 L1297.5,638.6 L1299.5,637.5 L1301.5,636.4 L1303.5,635.3 L1305.5,634.2 L1307.5,633.0 L1309.5,631.9 L1311.5,630.7 L1313.5,629.5 L1315.5,628.3 L1317.5,627.2 L1319.5,626.0 L1321.5,624.8 L1323.5,623.5 L1325.5,622.3 L1327.5,621.1 L1329.5,619.9 L1331.5,618.6 L1333.5,617.4 L1335.5,616.1 L1337.5,614.8 L1339.5,613.6 L1341.5,612.3 L1343.5,611.0 L1345.5,609.7 L1347.5,608.4 L1349.5,607.1 L1351.5,605.7 L1353.5,604.4 L1355.5,603.1 L1357.5,601.7 L1359.5,600.4 L1361.5,599.0 L1363.5,597.6 L1365.5,596.3 L1367.5,594.9 L1369.5,593.5 L1371.5,592.1 L1373.5,590.7 L1375.5,589.3 L1377.5,587.9 L1379.5,586.5 L1381.5,585.0 L1383.5,583.6 L1385.5,582.2 L1387.5,580.7 L1389.5,579.3 L1391.5,577.8 L1393.5,576.4 L1395.5,574.9 L1397.5,573.4 L1399.5,571.9 L1401.5,570.5 L1403.5,569.0 L1405.5,567.5 L1407.5,566.0 L1409.5,564.5 L1411.5,563.0 L1413.5,561.5 L1415.5,560.0 L1417.5,558.5 L1419.5,556.9 L1421.5,555.4 L1423.5,553.9 L1425.5,552.3 L1427.5,550.8 L1429.5,549.3 L1431.5,547.7 L1433.5,546.2 L1435.5,544.6 L1437.5,543.1 L1439.5,541.5 L1441.5,539.9 L1443.5,538.4 L1445.5,536.8 L1447.5,535.2 L1449.5,533.7 L1451.5,532.1 L1453.5,530.5 L1455.5,528.9 L1457.5,527.3 L1459.5,525.8 L1461.5,524.2 L1463.5,522.6 L1465.5,521.0 L1467.5,519.4 L1469.5,517.8 L1471.5,516.2 L1473.5,514.6 L1475.5,513.0 L1477.5,511.4 L1479.5,509.8 L1481.5,508.2 L1483.5,506.6 L1485.5,505.0 L1487.5,503.4 L1489.5,501.8 L1491.5,500.1 L1493.5,498.5 L1495.5,496.9 L1497.5,495.3 L1499.5,493.7 L1501.5,492.1 L1503.5,490.4 L1505.5,488.8 L1507.5,487.2 L1509.5,485.6 L1511.5,484.0 L1513.5,482.3 L1515.5,480.7 L1517.5,479.1 L1519.5,477.4 L1521.5,475.8 L1523.5,474.2 L1525.5,472.6 L1527.5,470.9 L1529.5,469.3 L1531.5,467.7 L1533.5,466.0 L1535.5,464.4 L1537.5,462.8 L1539.5,461.1 L1541.5,459.5 L1543.5,457.9 L1545.5,456.3 L1547.5,454.6 L1549.5,453.0 L1551.5,451.4 L1553.5,449.7 L1555.5,448.1 L1557.5,446.5 L1559.5,444.8 L1561.5,443.2 L1563.5,441.6 L1565.5,439.9 L1567.5,438.3 L1569.5,436.7 L1571.5,435.1 L1573.5,433.4 L1575.5,431.8 L1577.5,430.2 L1579.5,428.5 L1581.5,426.9 L1583.5,425.3 L1585.5,423.7 L1587.5,422.1 L1589.5,420.4 L1591.5,418.8 L1593.5,417.2 L1595.5,415.6 L1597.5,414.0 L1599.5,412.3 L1601.5,410.7 L1603.5,409.1 L1605.5,407.5 L1607.5,405.9 L1609.5,404.3 L1611.5,402.7 L1613.5,401.1 L1615.5,399.5 L1617.5,397.9 L1619.5,396.3 L1621.5,394.7 L1623.5,393.1 L1625.5,391.5 L1627.5,389.9 L1629.5,388.3 L1631.5,386.7 L1633.5,385.1 L1635.5,383.5 L1637.5,382.0 L1639.5,380.4 L1641.5,378.8 L1643.5,377.2 L1645.5,375.6 L1647.5,374.1 L1649.5,372.5 L1651.5,370.9 L1653.5,369.4 L1655.5,367.8 L1657.5,366.3 L1659.5,364.7 L1661.5,363.1 L1663.5,361.6 L1665.5,360.1 L1667.5,358.5 L1669.5,357.0 L1671.5,355.4 L1673.5,353.9 L1675.5,352.4 L1677.5,350.8 L1679.5,349.3 L1681.5,347.8 L1683.5,346.3 L1685.5,344.7 L1687.5,343.2 L1689.5,341.7 L1691.5,340.2 L1693.5,338.7 L1695.5,337.2 L1697.5,335.7 L1699.5,334.2 L1701.5,332.7 L1703.5,331.3 L1705.5,329.8 L1707.5,328.3 L1709.5,326.8 L1711.5,325.4 L1713.5,323.9 L1715.5,322.4 L1717.5,321.0 L1719.5,319.5 L1721.5,318.1 L1723.5,316.6 L1725.5,315.2 L1727.5,313.8 L1729.5,312.3 L1731.5,310.9 L1733.5,309.5 L1735.5,308.1 L1737.5,306.7 L1739.5,305.2 L1741.5,303.8 L1743.5,302.4 L1745.5,301.0 L1747.5,299.7 L1749.5,298.3 L1751.5,296.9 L1753.5,295.5 L1755.5,294.2 L1757.5,292.8 L1759.5,291.4 L1761.5,290.1 L1763.5,288.7 L1765.5,287.4 L1767.5,286.0 L1769.5,284.7 L1771.5,283.4 L1773.5,282.1 L1775.5,280.7 L1777.5,279.4 L1779.5,278.1 L1781.5,276.8 L1783.5,275.5 L1785.5,274.3 L1787.5,273.0 L1789.5,271.7 L1791.5,270.4 L1793.5,269.2 L1795.5,267.9 L1797.5,266.6 L1799.5,265.4 L1801.5,264.2 L1803.5,262.9 L1805.5,261.7 L1807.5,260.5 L1809.5,259.3 L1811.5,258.1 L1813.5,256.8 L1815.5,255.7" stroke="#B200FF"/>
</g>
<g fill="#000" shape-rendering="crispEdges">
<rect x="280" y="102" width="13" height="1240"/>
<rect x="280" y="1328" width="1616" height="14"/>
<rect x="265" y="184.0" width="15" height="13"/>
<rect x="265" y="388.4" width="15" height="13"/>
<rect x="265" y="592.8" width="15" height="13"/>
<rect x="265" y="797.2" width="15" height="13"/>
<rect x="265" y="1001.6" width="15" height="13"/>
<rect x="265" y="1206.0" width="15" height="13"/>
<rect x="276" y="286.2" width="4" height="13"/>
<rect x="276" y="490.6" width="4" height="13"/>
<rect x="276" y="695.0" width="4" height="13"/>
<rect x="276" y="899.4" width="4" height="13"/>
<rect x="276" y="1103.8" width="4" height="13"/>
<rect x="276" y="1308.2" width="4" height="13"/>
<rect x="353.0" y="1342" width="13" height="14"/>
<rect x="1081.0" y="1342" width="13" height="14"/>
<rect x="1809.0" y="1342" width="13" height="14"/>
<rect x="717.0" y="1342" width="13" height="4"/>
<rect x="1445.0" y="1342" width="13" height="4"/>
</g>
<g font-size="84">
<text x="250" y="214.5" text-anchor="end">5</text>
<text x="250" y="418.9" text-anchor="end">0</text>
<text x="250" y="623.3" text-anchor="end">−5</text>
<text x="250" y="827.7" text-anchor="end">−10</text>
<text x="250" y="1032.1" text-anchor="end">−15</text>
<text x="250" y="1236.5" text-anchor="end">−20</text>
</g>
<g font-size="84" text-anchor="middle">
<text x="358.3" y="1436">2.40</text>
<text x="1086.3" y="1436">2.45</text>
<text x="1814.3" y="1436">2.50</text>
</g>
<text x="784.5" y="1510" font-size="93.5">Frequency(GHz)</text>
<text transform="translate(82,940) rotate(-90)" font-size="93">S<tspan font-size="66" dy="24">11</tspan><tspan dy="-24" dx="2">(dB)</tspan></text>
<rect x="569" y="24.2" width="1074.2" height="314.8" fill="none" stroke="#000" stroke-width="2"/>
<g stroke-width="13" stroke-linecap="round" shape-rendering="crispEdges">
<line x1="580.5" y1="80.5" x2="763" y2="80.5" stroke="#0080FF"/>
<line x1="580.5" y1="181.5" x2="763" y2="181.5" stroke="#00FF00"/>
<line x1="580.5" y1="283.5" x2="763" y2="283.5" stroke="#4B00FF"/>
<line x1="1106" y1="80.5" x2="1290.5" y2="80.5" stroke="#FF0000"/>
<line x1="1106" y1="181.5" x2="1290.5" y2="181.5" stroke="#B200FF"/>
</g>
<g font-size="84">
<text x="785" y="108">p=<tspan dx="-3.5"> 20</tspan><tspan font-style="italic">pa</tspan></text>
<text x="785" y="209.3">p=<tspan dx="-3.5"> 50</tspan><tspan font-style="italic">pa</tspan></text>
<text x="785" y="310.7">p=<tspan dx="-3.5"> 100</tspan><tspan font-style="italic">pa</tspan></text>
<text x="1312" y="108">p=<tspan dx="-3.5"> 150</tspan><tspan font-style="italic">pa</tspan></text>
<text x="1312" y="209.3">p=<tspan dx="-3.5"> 200</tspan><tspan font-style="italic">pa</tspan></text>
</g>
</svg>
</body></html>
